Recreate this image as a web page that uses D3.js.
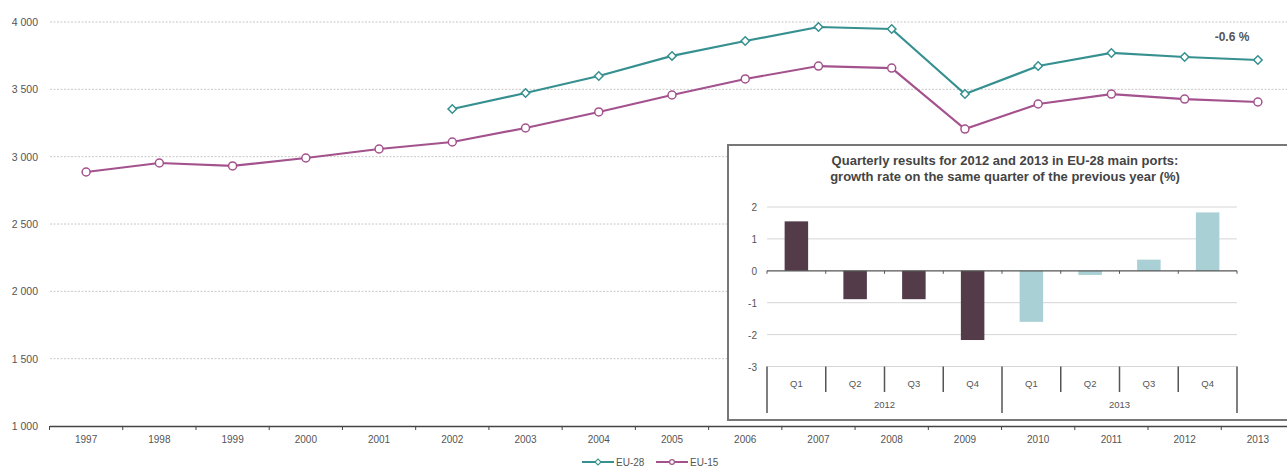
<!DOCTYPE html>
<html>
<head>
<meta charset="utf-8">
<script src="https://cdn.jsdelivr.net/npm/d3@7"></script>
<style>
  body { margin: 0; background: #fff; overflow: hidden; }
  svg { display: block; font-family: "Liberation Sans", Arial, sans-serif; }
</style>
</head>
<body>
<div id="viz"></div>
<script>
// datos
const years = ['1997','1998','1999','2000','2001','2002','2003','2004','2005','2006','2007','2008','2009','2010','2011','2012','2013'];
const eu15 = [2886, 2953, 2931, 2990, 3057, 3109, 3213, 3332, 3458, 3577, 3673, 3658, 3205, 3391, 3465, 3428, 3406];
const eu28 = [null, null, null, null, null, 3354, 3473, 3599, 3748, 3859, 3963, 3948, 3465, 3673, 3770, 3740, 3718];
const yTicks = [1000, 1500, 2000, 2500, 3000, 3500, 4000];

const quarters = ['Q1','Q2','Q3','Q4','Q1','Q2','Q3','Q4'];
const quarterYears = ['2012','2012','2012','2012','2013','2013','2013','2013'];
const growth = [1.55, -0.89, -0.89, -2.17, -1.6, -0.13, 0.35, 1.83];
const growthTicks = [-3, -2, -1, 0, 1, 2];

const COLOR_EU28 = '#35908f',
  COLOR_EU15 = '#a4528d',
  COLOR_2012 = '#533b49',
  COLOR_2013 = '#a9d0d4',
  COLOR_TEXT = '#555';

const W = 1287, H = 470;
const svg = d3.select('#viz').append('svg').attr('width', W).attr('height', H);

// grafico principal
const x = d3.scaleBand().domain(years).range([49.5, 1294.5]).padding(0);
const y = d3.scaleLinear().domain([1000, 4000]).range([426, 22]);
const fmt = d => d3.format(',')(d).replace(',', ' ');

svg.append('g')
  .selectAll('line')
  .data(yTicks.filter(d => d > 1000))
  .join('line')
  .attr('x1', 50).attr('x2', W)
  .attr('y1', d => y(d)).attr('y2', d => y(d))
  .attr('stroke', '#c8c8c8')
  .attr('stroke-dasharray', '2,1.5');

svg.append('g')
  .selectAll('text')
  .data(yTicks)
  .join('text')
  .attr('x', 38).attr('y', d => y(d) + 4)
  .attr('text-anchor', 'end')
  .attr('font-size', 10.5)
  .attr('fill', COLOR_TEXT)
  .text(fmt);

const xAxis = svg.append('g')
  .attr('transform', 'translate(0,' + y(1000) + ')')
  .call(d3.axisBottom(x).tickSize(0).tickPadding(10));
xAxis.select('.domain').attr('stroke', '#444').attr('stroke-width', 1.5);
xAxis.selectAll('text').attr('font-size', 10).attr('fill', COLOR_TEXT).attr('font-family', '"Liberation Sans", Arial, sans-serif');
xAxis.selectAll('.sep')
  .data(years)
  .join('line')
  .attr('class', 'sep')
  .attr('x1', d => x(d)).attr('x2', d => x(d))
  .attr('y1', 0).attr('y2', 4)
  .attr('stroke', '#444');

// rombo cuadrado girado 45 grados
const markerPath = (type, size) => d3.symbol().type(type === 'diamond' ? d3.symbolSquare : d3.symbolCircle).size(size)();
const markerRot = type => type === 'diamond' ? ' rotate(45)' : '';

function drawSeries(values, color, marker) {
  const pts = years.map((yr, i) => ({ yr: yr, v: values[i] })).filter(d => d.v != null);
  const line = d3.line().x(d => x(d.yr) + x.bandwidth() / 2).y(d => y(d.v));
  svg.append('path')
    .datum(pts)
    .attr('d', line)
    .attr('fill', 'none')
    .attr('stroke', color)
    .attr('stroke-width', 2.2);
  svg.append('g')
    .selectAll('path')
    .data(pts)
    .join('path')
    .attr('transform', d => 'translate(' + (x(d.yr) + x.bandwidth() / 2) + ',' + y(d.v) + ')' + markerRot(marker))
    .attr('d', markerPath(marker, marker === 'diamond' ? 36 : 50))
    .attr('fill', '#fff')
    .attr('stroke', color)
    .attr('stroke-width', 1.5);
}
drawSeries(eu15, COLOR_EU15, 'circle');
drawSeries(eu28, COLOR_EU28, 'diamond');

svg.append('text')
  .attr('x', 1232).attr('y', 41)
  .attr('text-anchor', 'middle')
  .attr('font-size', 12).attr('font-weight', 'bold')
  .attr('fill', COLOR_TEXT)
  .text('-0.6 %');

// leyenda
const legend = [
  { name: 'EU-28', color: COLOR_EU28, marker: 'diamond', x: 582 },
  { name: 'EU-15', color: COLOR_EU15, marker: 'circle', x: 656 }
];
const lg = svg.append('g').selectAll('g').data(legend).join('g')
  .attr('transform', d => 'translate(' + d.x + ',462)');
lg.append('line').attr('x1', 0).attr('x2', 32).attr('stroke', d => d.color).attr('stroke-width', 2);
lg.append('path').attr('transform', d => 'translate(16,0)' + markerRot(d.marker))
  .attr('d', d => markerPath(d.marker, 18))
  .attr('fill', '#fff').attr('stroke', d => d.color).attr('stroke-width', 1.2);
lg.append('text').attr('x', 34).attr('y', 4).attr('font-size', 10).attr('fill', COLOR_TEXT).text(d => d.name);

// recuadro trimestral
const box = { x: 728, y: 145, w: 580, h: 275 };
svg.append('rect')
  .attr('x', box.x).attr('y', box.y).attr('width', box.w).attr('height', box.h)
  .attr('fill', '#fff').attr('stroke', '#777').attr('stroke-width', 2);

svg.append('text')
  .attr('x', 1005).attr('y', 165)
  .attr('text-anchor', 'middle').attr('font-size', 13).attr('font-weight', 'bold').attr('fill', '#444')
  .selectAll('tspan')
  .data(['Quarterly results for 2012 and 2013 in EU-28 main ports:', 'growth rate on the same quarter of the previous year (%)'])
  .join('tspan')
  .attr('x', 1005).attr('dy', (d, i) => i === 0 ? 0 : 16)
  .text(d => d);

const qx = d3.scaleBand().domain(d3.range(quarters.length)).range([767, 1237]).paddingInner(0.6).paddingOuter(0.3);
const qxStep = d3.scaleBand().domain(d3.range(quarters.length)).range([767, 1237]);
const qy = d3.scaleLinear().domain([-3, 2]).range([366.5, 207]);

svg.append('g')
  .selectAll('line')
  .data(growthTicks.filter(d => d !== 0))
  .join('line')
  .attr('x1', 767).attr('x2', 1237)
  .attr('y1', d => qy(d)).attr('y2', d => qy(d))
  .attr('stroke', '#d6d6d6');

svg.append('g')
  .selectAll('text')
  .data(growthTicks)
  .join('text')
  .attr('x', 757).attr('y', d => qy(d) + 4)
  .attr('text-anchor', 'end')
  .attr('font-size', 10).attr('fill', COLOR_TEXT)
  .text(d => d);

svg.append('g')
  .selectAll('rect')
  .data(growth)
  .join('rect')
  .attr('x', (d, i) => qx(i))
  .attr('width', qx.bandwidth())
  .attr('y', d => qy(Math.max(0, d)))
  .attr('height', d => Math.abs(qy(d) - qy(0)))
  .attr('fill', (d, i) => quarterYears[i] === '2012' ? COLOR_2012 : COLOR_2013);

// eje cero
svg.append('line')
  .attr('x1', 767).attr('x2', 1237).attr('y1', qy(0)).attr('y2', qy(0))
  .attr('stroke', '#555').attr('stroke-width', 1.2);
svg.append('g')
  .selectAll('line')
  .data(d3.range(quarters.length + 1))
  .join('line')
  .attr('x1', i => 767 + i * qxStep.step()).attr('x2', i => 767 + i * qxStep.step())
  .attr('y1', qy(0)).attr('y2', qy(0) + 3)
  .attr('stroke', '#555');

// eje de categorias
const catTop = qy(-3);
svg.append('g')
  .selectAll('line')
  .data(d3.range(quarters.length + 1))
  .join('line')
  .attr('x1', i => 767 + i * qxStep.step()).attr('x2', i => 767 + i * qxStep.step())
  .attr('y1', catTop)
  .attr('y2', i => (i % 4 === 0) ? 413 : 392)
  .attr('stroke', '#555').attr('stroke-width', 1.5);

svg.append('g')
  .selectAll('text')
  .data(quarters)
  .join('text')
  .attr('x', (d, i) => qxStep(i) + qxStep.bandwidth() / 2)
  .attr('y', 387)
  .attr('text-anchor', 'middle').attr('font-size', 9.5).attr('fill', COLOR_TEXT)
  .text(d => d);

const yrs = Array.from(new Set(quarterYears));
svg.append('g')
  .selectAll('text')
  .data(yrs)
  .join('text')
  .attr('x', (d, i) => 767 + (i * 4 + 2) * qxStep.step())
  .attr('y', 408)
  .attr('text-anchor', 'middle').attr('font-size', 9.5).attr('fill', COLOR_TEXT)
  .text(d => d);
</script>
</body>
</html>
